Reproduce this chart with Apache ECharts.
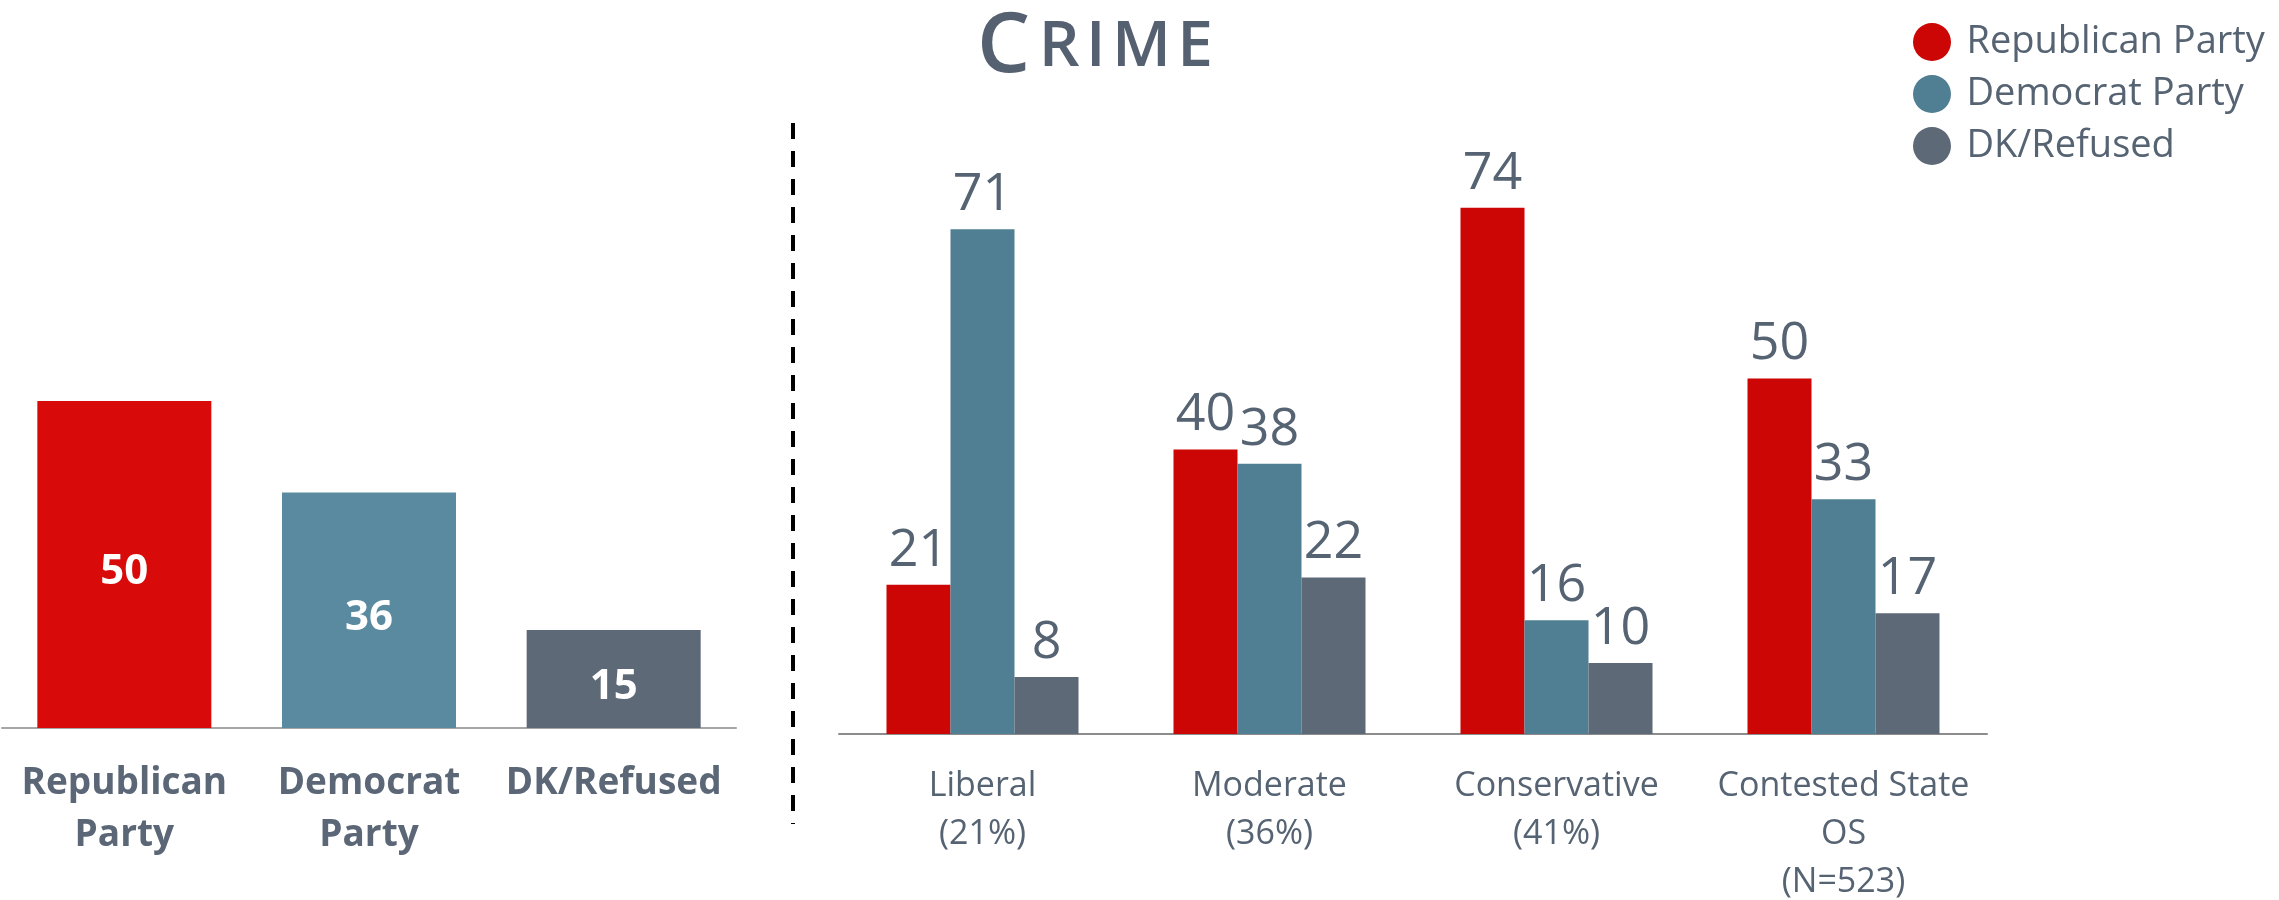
<!DOCTYPE html>
<html>
<head>
<meta charset="utf-8">
<script src="https://cdn.jsdelivr.net/npm/echarts@6/dist/echarts.min.js"></script>
<style>
html,body{margin:0;padding:0;background:#fff;}
#chart{width:2279px;height:900px;}
</style>
</head>
<body>
<div id="chart"></div>
<script>
// ---- data ----
const overallCategories = ['Republican\nParty', 'Democrat\nParty', 'DK/Refused'];
const overallValues = [50, 36, 15];
const groupCategories = ['Liberal\n(21%)', 'Moderate\n(36%)', 'Conservative\n(41%)', 'Contested State\nOS\n(N=523)'];
const seriesNames = ['Republican Party', 'Democrat Party', 'DK/Refused'];
const republicanValues = [21, 40, 74, 50];
const democratValues = [71, 38, 16, 33];
const dkRefusedValues = [8, 22, 10, 17];

// ---- styles ----
const FONT = '"Open Sans", "Noto Sans", sans-serif';
const TEXT = '#566372';
const leftColors = ['#D90A0A', '#5A8A9F', '#5E6978'];
const rightColors = ['#CC0605', '#507F93', '#5E6978'];
const ellipse = 'path://M50,0A50,50 0 1,1 49.99,0Z';

const chart = echarts.init(document.getElementById('chart'), null, {renderer: 'canvas'});

const groupSeriesData = [republicanValues, democratValues, dkRefusedValues];

const option = {
  backgroundColor: '#ffffff',
  animation: false,
  title: {
    text: '{c|C\u200a}{r|R\u200aI\u200aM\u200aE}',
    left: 1090,
    textAlign: 'center',
    top: 1,
    textStyle: {
      rich: {
        c: {fontFamily: FONT, fontSize: 84, fontWeight: 600, color: '#556170'},
        r: {fontFamily: FONT, fontSize: 64, fontWeight: 600, color: '#556170'}
      }
    }
  },
  legend: {
    orient: 'vertical',
    left: 1908,
    top: 18,
    itemWidth: 43,
    itemHeight: 38,
    itemGap: 14,
    icon: ellipse,
    data: seriesNames,
    textStyle: {fontFamily: FONT, fontSize: 38, lineHeight: 38, color: TEXT, padding: [0, 0, 0, 8]}
  },
  grid: [
    {left: 2, width: 734, top: 74, height: 654, outerBoundsMode: 'none', containLabel: false},
    {left: 839, width: 1148, top: 23, height: 711, outerBoundsMode: 'none', containLabel: false}
  ],
  xAxis: [
    {
      type: 'category', gridIndex: 0, data: overallCategories,
      axisLine: {lineStyle: {color: '#A6A6A6', width: 2}},
      axisTick: {show: false},
      axisLabel: {fontFamily: FONT, fontSize: 37, fontWeight: 'bold', color: '#5B6776', lineHeight: 52, margin: 29, interval: 0}
    },
    {
      type: 'category', gridIndex: 1, data: groupCategories,
      axisLine: {lineStyle: {color: '#8C8C8C', width: 2}},
      axisTick: {show: false},
      axisLabel: {fontFamily: FONT, fontSize: 34, color: TEXT, lineHeight: 48, margin: 28, interval: 0}
    }
  ],
  yAxis: [
    {type: 'value', gridIndex: 0, min: 0, max: 100, show: false},
    {type: 'value', gridIndex: 1, min: 0, max: 100, show: false}
  ],
  series: [
    {
      name: 'Overall', type: 'bar', xAxisIndex: 0, yAxisIndex: 0,
      barWidth: 174,
      data: overallValues.map((v, i) => ({value: v, itemStyle: {color: leftColors[i]}})),
      label: {show: true, position: 'inside', offset: [0, 8], fontFamily: FONT, fontSize: 42, fontWeight: 'bold', color: '#ffffff'}
    }
  ].concat(seriesNames.map((name, k) => ({
    name: name, type: 'bar', xAxisIndex: 1, yAxisIndex: 1,
    barWidth: 64, barGap: '0%',
    itemStyle: {color: rightColors[k]},
    data: groupSeriesData[k],
    label: {show: true, position: 'top', distance: 8, fontFamily: FONT, fontSize: 52, color: TEXT}
  }))),
  graphic: [
    {
      type: 'line',
      shape: {x1: 793, y1: 123, x2: 793, y2: 824},
      style: {stroke: '#000000', lineWidth: 4, lineDash: [16, 12]}
    }
  ]
};

chart.setOption(option);
</script>
</body>
</html>
